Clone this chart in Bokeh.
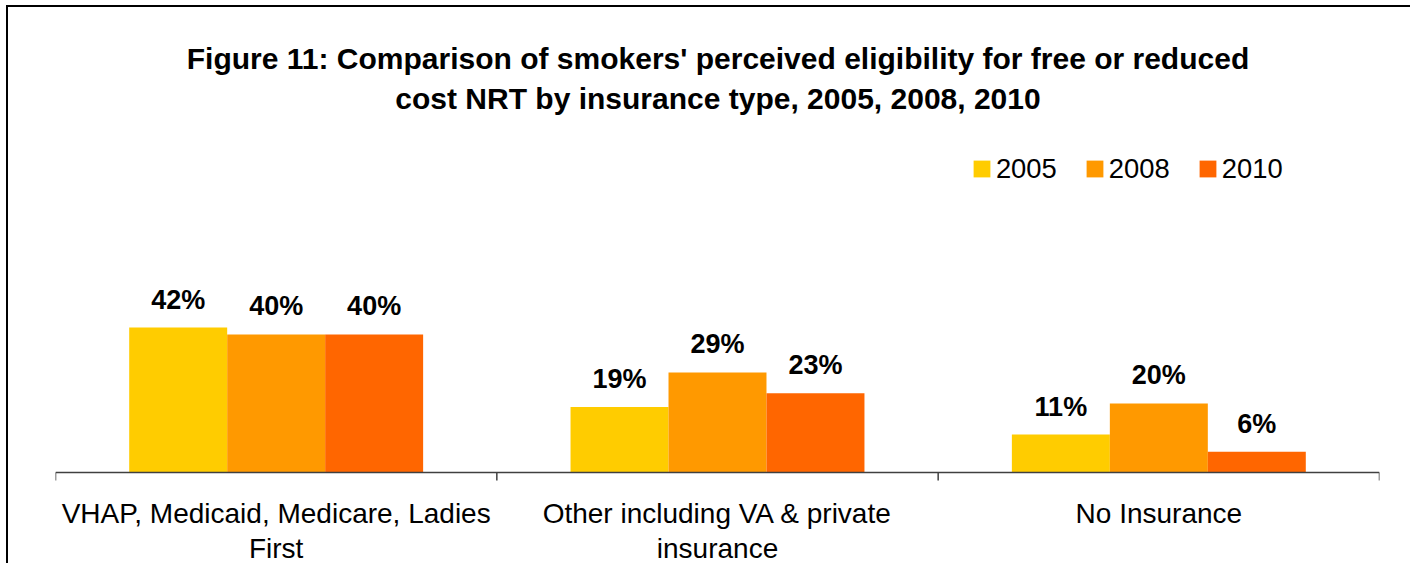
from bokeh.plotting import figure
from bokeh.models import (FactorRange, Range1d, Span, LabelSet,
                          ColumnDataSource, Label, Legend, LegendItem)
from bokeh.core.properties import value
from bokeh.transform import dodge
from bokeh.embed import file_html
from bokeh.resources import INLINE

# ---- data ----
categories = ["VHAP, Medicaid, Medicare, Ladies First",
              "Other including VA & private insurance",
              "No Insurance"]
category_line1 = ["VHAP, Medicaid, Medicare, Ladies",
                  "Other including VA & private",
                  "No Insurance"]
category_line2 = ["First", "insurance", ""]
years = ["2005", "2008", "2010"]
values_2005 = [42, 19, 11]
values_2008 = [40, 29, 20]
values_2010 = [40, 23, 6]
title_lines = ["Figure 11: Comparison of smokers' perceived eligibility for free or reduced",
               "cost NRT by insurance type, 2005, 2008, 2010"]

# ---- styling ----
colors = ["#FFCC00", "#FF9900", "#FF6600"]
offsets = [-0.222, 0.0, 0.222]
bar_w = 0.222
FONT = "Liberation Sans"
AXIS_COLOR = "#404040"
TICK_DEPTH = -2.319   # 8px below the baseline
Y_START = -26.957     # leaves room for the category labels inside the frame
Y_END = 131.88

series = [values_2005, values_2008, values_2010]
data = {"cat": categories, "line1": category_line1, "line2": category_line2}
for y, vals in zip(years, series):
    data["v" + y] = vals
    data["l" + y] = [f"{v}%" for v in vals]
source = ColumnDataSource(data)

p = figure(width=1404, height=558,
           x_range=FactorRange(*categories), y_range=Range1d(Y_START, Y_END),
           output_backend="svg", toolbar_location=None,
           x_axis_location=None, y_axis_location=None)
p.min_border_left = 47
p.min_border_right = 33
p.min_border_top = 10
p.min_border_bottom = 0
p.outline_line_color = None
p.xgrid.visible = False
p.ygrid.visible = False
p.background_fill_color = "white"
p.border_fill_color = "white"
p.styles = {"border-left": "2px solid #000000", "border-top": "2px solid #000000",
            "margin-left": "6px", "margin-top": "5px"}

# category labels (two rows below the baseline)
for col, ty in [("line1", 43), ("line2", 8)]:
    p.add_layout(LabelSet(x="cat", y=ty, y_units="screen", text=col, source=source,
                          text_align="center", text_baseline="alphabetic",
                          text_font=value(FONT), text_font_size="28px",
                          text_color="#000000"))

# baseline + separator ticks between categories
p.add_layout(Span(location=0, dimension="width", line_color=AXIS_COLOR, line_width=1.5))
p.segment(x0=dodge("cat", -0.5, range=p.x_range), y0=0,
          x1=dodge("cat", -0.5, range=p.x_range), y1=TICK_DEPTH,
          source=source, line_color=AXIS_COLOR, line_width=1.5)
p.segment(x0=dodge("cat", 0.5, range=p.x_range), y0=0,
          x1=dodge("cat", 0.5, range=p.x_range), y1=TICK_DEPTH,
          source=ColumnDataSource({"cat": categories[-1:]}),
          line_color=AXIS_COLOR, line_width=1.5)

items = []
for y, c, off in zip(years, colors, offsets):
    r = p.vbar(x=dodge("cat", off, range=p.x_range), top="v" + y, width=bar_w,
               source=source, fill_color=c, line_color=None)
    p.text(x=dodge("cat", off, range=p.x_range), y="v" + y, text="l" + y, source=source,
           y_offset=-28, text_align="center", text_baseline="alphabetic",
           text_font=value(FONT), text_font_style="bold", text_font_size="27px",
           text_color="#000000")
    items.append(LegendItem(label=y, renderers=[r]))

legend = Legend(items=items, orientation="horizontal", location=(915.9, 380.5),
                glyph_width=21, glyph_height=21, label_height=21, label_standoff=4,
                spacing=27, padding=0, margin=0, border_line_color=None,
                background_fill_alpha=0, label_text_font=FONT,
                label_text_font_size="27.4px", label_text_color="#000000")
p.add_layout(legend)

for txt, ty in zip(title_lines, [507.5, 467.5]):
    p.add_layout(Label(x=662.5, y=ty, x_units="screen", y_units="screen", text=txt,
                       text_align="center", text_baseline="alphabetic",
                       text_font=FONT, text_font_style="bold", text_font_size="30px",
                       text_color="#000000"))

open("out.html", "w").write(file_html(p, INLINE))
